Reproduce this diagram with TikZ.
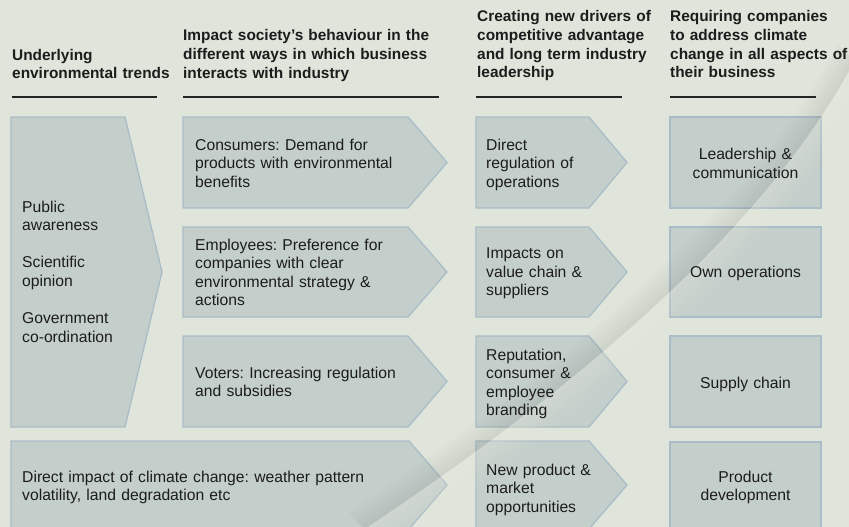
\documentclass[tikz,border=0pt]{standalone}
\usepackage{fontspec}
\setmainfont{Liberation Sans}
\frenchspacing
\newcommand\bodyfont{\fontsize{15.7}{18.6}\selectfont}
\newcommand\hdrfont{\fontsize{15.4}{18.6}\selectfont}
\definecolor{bgcol}{RGB}{223,229,218}
\definecolor{boxfill}{RGB}{196,207,203}
\definecolor{boxline}{RGB}{170,188,199}
\definecolor{txtdark}{RGB}{28,28,28}
\definecolor{rulecol}{RGB}{36,36,36}
\definecolor{curlhi}{RGB}{236,234,222}
\definecolor{curlsh}{RGB}{90,96,92}
\tikzset{
  box/.style={fill=boxfill, draw=boxline, line width=1.3pt, line join=miter},
  hdr/.style={anchor=base west, inner sep=0pt, align=left, font=\bfseries\hdrfont, text=txtdark, text width=#1},
  body/.style={anchor=base west, inner sep=0pt, align=left, font=\bodyfont, text=txtdark, text width=#1},
  cbody/.style={anchor=base, inner sep=0pt, align=center, font=\bodyfont, text=txtdark, text width=150pt},
  rulestroke/.style={draw=rulecol, line width=2.2pt}
}
\begin{document}
\begin{tikzpicture}[x=1pt,y=-1pt]
\useasboundingbox (0,0) rectangle (849,527);
\fill[bgcol] (0,0) rectangle (849,527);
\begin{scope}
\clip (0,0) rectangle (849,527);
% headers
\node[hdr=170pt] (h1) at (12,60) {Underlying\\environmental trends};
\node[hdr=270pt] (h2) at (183,41) {Impact society’s behaviour in the\\different ways in which business\\interacts with industry};
\node[hdr=190pt] (h3) at (477,22) {Creating new drivers of\\competitive advantage\\and long term industry\\leadership};
\node[hdr=178pt] (h4) at (670,22) {Requiring companies\\to address climate\\change in all aspects of\\their business};
\draw[rulestroke] (12,97) -- (157,97);
\draw[rulestroke] (183,97) -- (439,97);
\draw[rulestroke] (476,97) -- (622,97);
\draw[rulestroke] (670,97) -- (816,97);
% column 1
\filldraw[box] (11,117) -- (125,117) -- (162,272) -- (125,427) -- (11,427) -- cycle;
% column 2
\filldraw[box] (183,117) -- (408,117) -- (447,162.5) -- (408,208) -- (183,208) -- cycle;
\filldraw[box] (183,227) -- (408,227) -- (447,272) -- (408,317) -- (183,317) -- cycle;
\filldraw[box] (183,336) -- (408,336) -- (447,381.5) -- (408,427) -- (183,427) -- cycle;
\filldraw[box] (11,441) -- (409,441) -- (447,485) -- (409,529) -- (11,529) -- cycle;
% column 3
\filldraw[box] (476,117) -- (589,117) -- (627,162.5) -- (589,208) -- (476,208) -- cycle;
\filldraw[box] (476,227) -- (589,227) -- (627,272) -- (589,317) -- (476,317) -- cycle;
\filldraw[box] (476,336) -- (589,336) -- (627,381.5) -- (589,427) -- (476,427) -- cycle;
\filldraw[box] (476,441) -- (589,441) -- (627,485) -- (589,529) -- (476,529) -- cycle;
% column 4
\filldraw[box] (670,117) rectangle (821,208);
\filldraw[box] (670,227) rectangle (821,317);
\filldraw[box] (670,336) rectangle (821,427);
\filldraw[box] (670,442) rectangle (821,529);
% page curl: shadow on the upper-left side, light tint on the lower-right side
\foreach \i in {1,...,12}{
  \pgfmathsetmacro\op{0.009*(13-\i)}
  \draw[curlsh, opacity=\op, line width=2.3pt, shift={(-1.38*\i,-1.45*\i)}]
    (365,530) .. controls (560,400) and (760,240) .. (855,62);
}
\foreach \i in {1,...,14}{
  \pgfmathsetmacro\op{0.016*(15-\i)}
  \draw[curlhi, opacity=\op, line width=2.4pt, shift={(1.38*\i,1.45*\i)}]
    (365,530) .. controls (560,400) and (760,240) .. (855,62);
}
\draw[curlhi, opacity=0.45, line width=1pt] (365,530) .. controls (560,400) and (760,240) .. (855,62);
% texts
\node[body=130pt] (a1) at (22,212) {Public\\awareness\\[18.6pt]Scientific\\opinion\\[18.6pt]Government\\co-ordination};
\node[body=240pt] (b1) at (195,150) {Consumers: Demand for\\products with environmental\\benefits};
\node[body=240pt] (b2) at (195,250) {Employees: Preference for\\companies with clear\\environmental strategy \&\\actions};
\node[body=240pt] (b3) at (195,378) {Voters: Increasing regulation\\and subsidies};
\node[body=400pt] (b4) at (22,482) {Direct impact of climate change: weather pattern\\volatility, land degradation etc};
\node[body=130pt] (c1) at (486,150) {Direct\\regulation of\\operations};
\node[body=130pt] (c2) at (486,258.5) {Impacts on\\value chain \&\\suppliers};
\node[body=130pt] (c3) at (486,360) {Reputation,\\consumer \&\\employee\\branding};
\node[body=130pt] (c4) at (486,475) {New product \&\\market\\opportunities};
\node[cbody] (d1) at (745.5,159.5) {Leadership \&\\communication};
\node[cbody] (d2) at (745.5,277) {Own operations};
\node[cbody] (d3) at (745.5,388) {Supply chain};
\node[cbody] (d4) at (745.5,482) {Product\\development};
\end{scope}
\end{tikzpicture}
\end{document}
